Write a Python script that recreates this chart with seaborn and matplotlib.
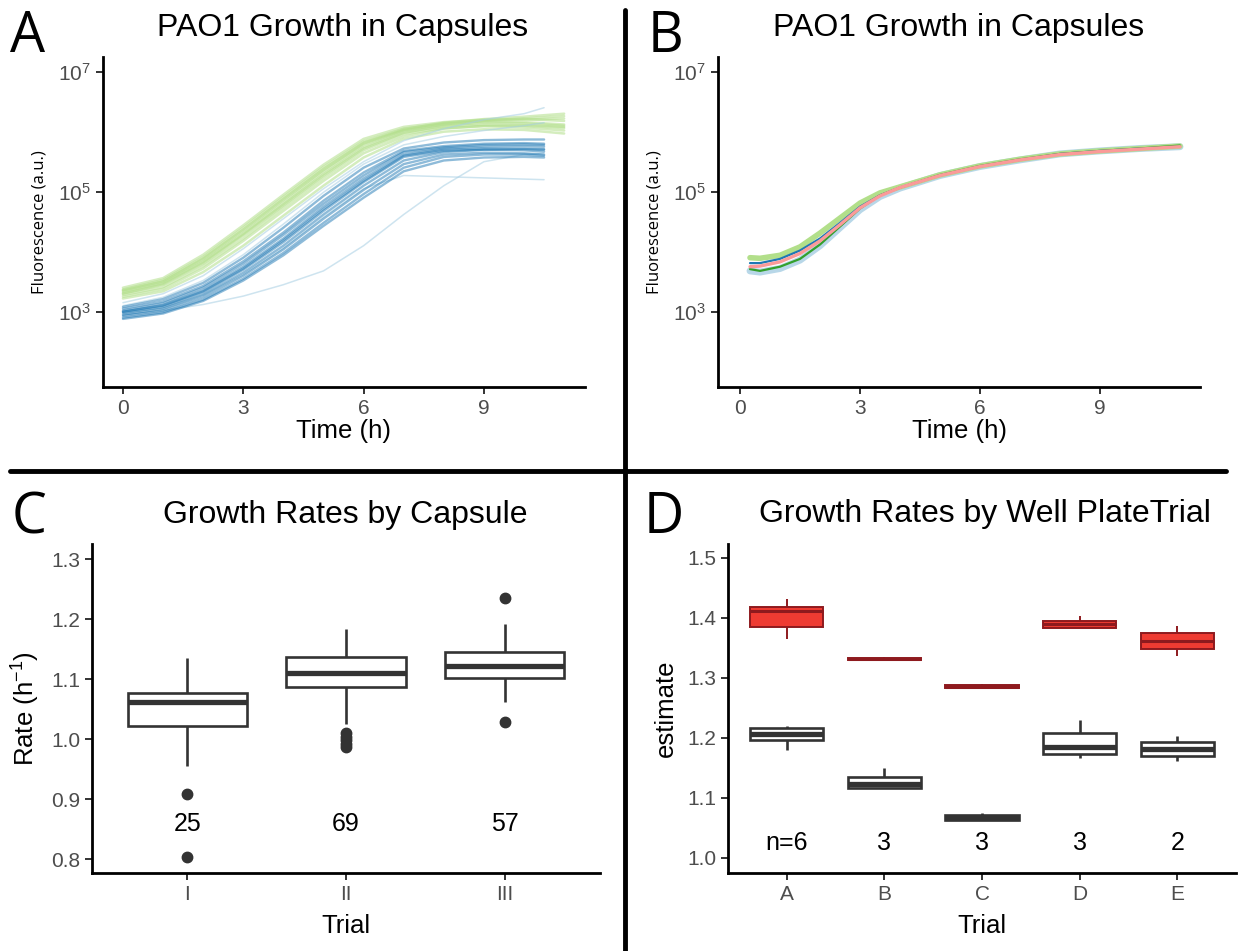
import numpy as np
import pandas as pd
import matplotlib
matplotlib.use("Agg")
import matplotlib.pyplot as plt
import seaborn as sns
from matplotlib.lines import Line2D

W, H = 1239, 951

# ---------------- Panel A: per-capsule growth curves (log10 fluorescence) ----------------
time_blue = [0, 1, 2, 3, 4, 5, 6, 7, 8, 9, 10, 10.5]
time_green = [0, 1, 2, 3, 4, 5, 6, 7, 8, 9, 10, 11]
green_curves = [
    [3.25, 3.38, 3.72, 4.18, 4.68, 5.18, 5.64, 5.92, 6.05, 6.10, 6.10, 6.06],
    [3.30, 3.45, 3.80, 4.27, 4.77, 5.27, 5.72, 5.98, 6.10, 6.15, 6.14, 6.10],
    [3.35, 3.50, 3.87, 4.35, 4.86, 5.36, 5.80, 6.03, 6.13, 6.17, 6.16, 6.12],
    [3.40, 3.56, 3.95, 4.44, 4.95, 5.45, 5.88, 6.08, 6.16, 6.20, 6.21, 6.18],
    [3.28, 3.41, 3.76, 4.22, 4.73, 5.23, 5.69, 5.96, 6.06, 6.09, 6.07, 6.02],
    [3.33, 3.48, 3.84, 4.31, 4.82, 5.33, 5.78, 6.02, 6.12, 6.18, 6.20, 6.22],
    [3.22, 3.34, 3.66, 4.10, 4.60, 5.10, 5.57, 5.88, 6.00, 6.04, 6.03, 5.97],
    [3.37, 3.53, 3.91, 4.40, 4.91, 5.41, 5.84, 6.05, 6.14, 6.19, 6.22, 6.26],
    [3.31, 3.46, 3.82, 4.29, 4.79, 5.29, 5.74, 6.00, 6.09, 6.12, 6.11, 6.08],
    [3.36, 3.51, 3.89, 4.37, 4.88, 5.38, 5.82, 6.04, 6.15, 6.21, 6.25, 6.30],
]
blue_curves = [
    [3.00, 3.11, 3.36, 3.75, 4.22, 4.75, 5.22, 5.62, 5.72, 5.75, 5.76, 5.75],
    [2.95, 3.05, 3.28, 3.65, 4.10, 4.62, 5.10, 5.52, 5.66, 5.70, 5.71, 5.70],
    [3.05, 3.17, 3.43, 3.84, 4.32, 4.85, 5.32, 5.68, 5.76, 5.80, 5.81, 5.80],
    [2.90, 2.99, 3.20, 3.55, 3.98, 4.48, 4.96, 5.40, 5.58, 5.62, 5.62, 5.60],
    [3.02, 3.14, 3.40, 3.80, 4.28, 4.80, 5.27, 5.66, 5.74, 5.78, 5.79, 5.78],
    [2.98, 3.08, 3.32, 3.70, 4.16, 4.68, 5.16, 5.58, 5.68, 5.70, 5.69, 5.67],
    [3.08, 3.21, 3.48, 3.90, 4.40, 4.93, 5.40, 5.72, 5.82, 5.86, 5.87, 5.87],
    [2.93, 3.02, 3.24, 3.60, 4.04, 4.55, 5.03, 5.46, 5.62, 5.65, 5.64, 5.62],
    [3.00, 3.10, 3.34, 3.72, 4.19, 4.71, 5.18, 5.60, 5.70, 5.72, 5.72, 5.71],
    [2.88, 2.97, 3.18, 3.52, 3.94, 4.43, 4.90, 5.34, 5.52, 5.57, 5.58, 5.57],
]
faint_blue_curves = [
    [3.15, 3.30, 3.60, 4.05, 4.55, 5.05, 5.50, 5.85, 6.05, 6.20, 6.30, 6.40],
    [2.95, 3.02, 3.12, 3.26, 3.45, 3.68, 4.10, 4.62, 5.10, 5.50, 5.62, 5.65],
    [2.98, 3.06, 3.28, 3.62, 4.06, 4.58, 5.05, 5.27, 5.25, 5.23, 5.21, 5.20],
    [3.10, 3.24, 3.52, 3.95, 4.46, 4.99, 5.46, 5.78, 5.92, 6.02, 6.10, 6.15],
]

# ---------------- Panel B: mean curves (log10 fluorescence) ----------------
time_b = [0.25, 0.5, 1, 1.5, 2, 2.5, 3, 3.5, 4, 5, 6, 7, 8, 9, 10, 11]
b_lightblue = [3.68, 3.66, 3.72, 3.86, 4.10, 4.40, 4.70, 4.92, 5.06, 5.27, 5.42, 5.53, 5.63, 5.68, 5.72, 5.75]
b_lightgreen = [3.90, 3.89, 3.94, 4.08, 4.31, 4.56, 4.81, 4.98, 5.08, 5.28, 5.43, 5.54, 5.63, 5.68, 5.72, 5.76]
b_blue = [3.81, 3.81, 3.88, 4.02, 4.22, 4.48, 4.75, 4.94, 5.07, 5.27, 5.42, 5.53, 5.63, 5.68, 5.72, 5.75]
b_green = [3.71, 3.68, 3.75, 3.88, 4.12, 4.42, 4.72, 4.94, 5.07, 5.28, 5.43, 5.54, 5.63, 5.68, 5.72, 5.77]
b_pink = [3.75, 3.76, 3.83, 3.97, 4.18, 4.45, 4.73, 4.93, 5.07, 5.27, 5.42, 5.53, 5.62, 5.67, 5.71, 5.75]

# ---------------- Panel C: growth rates by capsule ----------------
trials_c = ["I", "II", "III"]
rate_I = [0.803, 0.908, 0.955, 1.021, 1.035, 1.050, 1.062, 1.066, 1.070, 1.076, 1.090, 1.110, 1.135]
rate_II = [0.987, 0.992, 0.998, 1.004, 1.010, 1.0245, 1.0865, 1.090, 1.095, 1.099, 1.103, 1.107, 1.1105,
           1.114, 1.118, 1.123, 1.128, 1.132, 1.1365, 1.142, 1.150, 1.158, 1.166, 1.175, 1.184]
rate_III = [1.0288, 1.061, 1.085, 1.101, 1.108, 1.115, 1.122, 1.130, 1.138, 1.145, 1.160, 1.191, 1.2345]
counts_c = ["25", "69", "57"]

# ---------------- Panel D: growth rates by well plate trial ----------------
trials_d = ["A", "B", "C", "D", "E"]
red_A = [1.364, 1.3844, 1.4117, 1.4178, 1.4306]
red_B = [1.330, 1.3305, 1.3317, 1.3325, 1.335]
red_C = [1.2825, 1.2830, 1.2850, 1.2875, 1.2906]
red_D = [1.3833, 1.3833, 1.3890, 1.3944, 1.4028]
red_E = [1.3372, 1.3483, 1.3617, 1.3744, 1.3861]
white_A = [1.1806, 1.1960, 1.2070, 1.2161, 1.2194]
white_B = [1.1167, 1.1167, 1.1233, 1.1356, 1.1500]
white_C = [1.0628, 1.0628, 1.0667, 1.0722, 1.0750]
white_D = [1.1667, 1.1739, 1.1844, 1.2083, 1.2306]
white_E = [1.1611, 1.1706, 1.1817, 1.1928, 1.2028]
counts_d = ["n=6", "3", "3", "3", "2"]

# ---------------- style ----------------
sns.set_theme(style="white")
plt.rcParams["font.family"] = ["Liberation Sans", "DejaVu Sans"]
plt.rcParams["text.color"] = "black"
plt.rcParams["axes.labelcolor"] = "black"
plt.rcParams["mathtext.fontset"] = "custom"
plt.rcParams["mathtext.rm"] = "Liberation Sans"
plt.rcParams["mathtext.it"] = "Liberation Sans:italic"
plt.rcParams["mathtext.bf"] = "Liberation Sans:bold"

TICK_GREY = "#4D4D4D"
DARK = "#333333"

fig = plt.figure(figsize=(W / 100, H / 100), dpi=100)
fig.patch.set_facecolor("white")


def rect(l, r, t, b):
    return [l / W, 1 - b / H, (r - l) / W, (b - t) / H]


def ftext(x, y, s, **kw):
    fig.text(x / W, 1 - y / H, s, **kw)


def style(ax):
    for s in ["top", "right"]:
        ax.spines[s].set_visible(False)
    for s in ["left", "bottom"]:
        ax.spines[s].set_linewidth(2.0)
        ax.spines[s].set_color("black")
    ax.tick_params(axis="both", which="major", length=5, width=1.4, color=DARK,
                   labelcolor=TICK_GREY, labelsize=15, pad=3.5,
                   left=True, bottom=True)
    ax.tick_params(axis="both", which="minor", length=0)
    ax.set_facecolor("white")
    ax.grid(False)


axA = fig.add_axes(rect(102.5, 585, 56.7, 386.7))
axB = fig.add_axes(rect(718, 1200, 56.7, 386.7))
axC = fig.add_axes(rect(92, 600, 544, 873))
axD = fig.add_axes(rect(728, 1236, 544, 873))

# ---- Panel A ----
rows = []
for grp, curves, times in [("green", green_curves, time_green),
                           ("faint", faint_blue_curves, time_blue),
                           ("blue", blue_curves, time_blue)]:
    for i, c in enumerate(curves):
        for t, v in zip(times, c):
            rows.append((grp, f"{grp}{i}", t, 10 ** v))
dfA = pd.DataFrame(rows, columns=["group", "capsule", "time", "fluor"])
sns.lineplot(data=dfA[dfA.group == "green"], x="time", y="fluor", units="capsule",
             estimator=None, color="#B2DF8A", linewidth=1.8, alpha=0.55, legend=False, ax=axA)
sns.lineplot(data=dfA[dfA.group == "faint"], x="time", y="fluor", units="capsule",
             estimator=None, color="#A6CEE3", linewidth=1.1, alpha=0.55, legend=False, ax=axA)
sns.lineplot(data=dfA[dfA.group == "blue"], x="time", y="fluor", units="capsule",
             estimator=None, color="#1F78B4", linewidth=1.7, alpha=0.5, legend=False, ax=axA)

# ---- Panel B ----
b_series = [
    (b_lightblue, "#A6CEE3", 5.0, 0.8),
    (b_lightgreen, "#B2DF8A", 4.0, 1.0),
    (b_blue, "#1F78B4", 1.6, 1.0),
    (b_green, "#33A02C", 1.6, 1.0),
    (b_pink, "#FB9A99", 2.4, 1.0),
]
for vals, col, lw, al in b_series:
    sns.lineplot(x=time_b, y=[10 ** v for v in vals], color=col, linewidth=lw, alpha=al, ax=axB)

for ax, xl in [(axA, (-0.51, 11.52)), (axB, (-0.55, 11.5))]:
    ax.set_yscale("log")
    ax.set_ylim(10 ** 1.75, 10 ** 7.25)
    ax.set_xlim(*xl)
    ax.set_yticks([1e3, 1e5, 1e7])
    ax.set_yticklabels([r"$10^{3}$", r"$10^{5}$", r"$10^{7}$"])
    ax.minorticks_off()
    ax.set_xticks([0, 3, 6, 9])
    ax.set_xticklabels(["0", "3", "6", "9"])
    style(ax)
    ax.set_xlabel("Time (h)", fontsize=18.5, color="black")
    ax.xaxis.set_label_coords(0.5, -0.1555)
    ax.xaxis.label.set_va("baseline")
    ax.set_ylabel("Fluorescence (a.u.)", fontsize=12, family=["Open Sans", "DejaVu Sans"], color="black")
    ax.yaxis.set_label_coords(-0.115, 0.5)

# ---- Panel C ----
dfC = pd.DataFrame({
    "trial": ["I"] * len(rate_I) + ["II"] * len(rate_II) + ["III"] * len(rate_III),
    "rate": rate_I + rate_II + rate_III,
})
sns.boxplot(data=dfC, x="trial", y="rate", order=trials_c, color="white", linecolor=DARK,
            linewidth=1.9, width=0.75, saturation=1, showcaps=False,
            medianprops=dict(linewidth=3.8, color=DARK),
            flierprops=dict(marker="o", markersize=7.5, markerfacecolor=DARK, markeredgecolor=DARK),
            ax=axC)
for i, s in enumerate(counts_c):
    axC.text(i, 0.859, s, ha="center", va="center", fontsize=18, color="black")
axC.set_xlim(-0.6, 2.6)
axC.set_ylim(0.7767, 1.325)
axC.set_yticks([0.8, 0.9, 1.0, 1.1, 1.2, 1.3])
axC.set_yticklabels(["0.8", "0.9", "1.0", "1.1", "1.2", "1.3"])
style(axC)
axC.set_xlabel("Trial", fontsize=18.5, color="black")
axC.xaxis.set_label_coords(0.5, -0.182)
axC.xaxis.label.set_va("baseline")
axC.set_ylabel(r"Rate (h$^{-1}$)", fontsize=18.5, color="black")
axC.yaxis.set_label_coords(-0.098, 0.5)

# ---- Panel D ----
red_vals = [red_A, red_B, red_C, red_D, red_E]
white_vals = [white_A, white_B, white_C, white_D, white_E]
dfRed = pd.DataFrame({"trial": [t for t, v in zip(trials_d, red_vals) for _ in v],
                      "estimate": [x for v in red_vals for x in v]})
dfWhite = pd.DataFrame({"trial": [t for t, v in zip(trials_d, white_vals) for _ in v],
                        "estimate": [x for v in white_vals for x in v]})
sns.boxplot(data=dfRed, x="trial", y="estimate", order=trials_d, color="#EE3B32", linecolor="#8E1A1E",
            linewidth=1.4, width=0.75, saturation=1, showcaps=False,
            medianprops=dict(linewidth=2.2, color="#8E1A1E"), ax=axD)
sns.boxplot(data=dfWhite, x="trial", y="estimate", order=trials_d, color="white", linecolor=DARK,
            linewidth=1.9, width=0.75, saturation=1, showcaps=False,
            medianprops=dict(linewidth=3.8, color=DARK), ax=axD)
for i, s in enumerate(counts_d):
    axD.text(i, 1.025, s, ha="center", va="center", fontsize=18, color="black")
axD.set_xlim(-0.6, 4.6)
axD.set_ylim(0.975, 1.523)
axD.set_yticks([1.0, 1.1, 1.2, 1.3, 1.4, 1.5])
axD.set_yticklabels(["1.0", "1.1", "1.2", "1.3", "1.4", "1.5"])
style(axD)
axD.set_xlabel("Trial", fontsize=18.5, color="black")
axD.xaxis.set_label_coords(0.5, -0.182)
axD.xaxis.label.set_va("baseline")
axD.set_ylabel("estimate", fontsize=18.5, color="black")
axD.yaxis.set_label_coords(-0.098, 0.5)

# ---- Titles and panel letters ----
title_kw = dict(ha="center", va="baseline", fontsize=23, color="black")
ftext(343, 36, "PAO1 Growth in Capsules", **title_kw)
ftext(959, 36, "PAO1 Growth in Capsules", **title_kw)
ftext(345, 523, "Growth Rates by Capsule", **title_kw)
ftext(985, 522, "Growth Rates by Well PlateTrial", **title_kw)

letter_kw = dict(fontsize=40, family=["Open Sans", "DejaVu Sans"], va="baseline", ha="left", color="black")
ftext(10, 52, "A", **letter_kw)
ftext(648, 52, "B", **letter_kw)
ftext(12, 533, "C", **letter_kw)
ftext(644, 533, "D", **letter_kw)

# ---- Divider lines ----
fig.add_artist(Line2D([625 / W, 625 / W], [1 - 10 / H, 0], transform=fig.transFigure,
                      color="black", linewidth=3.5))
fig.add_artist(Line2D([10 / W, 1226 / W], [1 - 471 / H, 1 - 471 / H], transform=fig.transFigure,
                      color="black", linewidth=3.5))

fig.savefig("out.png", dpi=100, facecolor="white")
